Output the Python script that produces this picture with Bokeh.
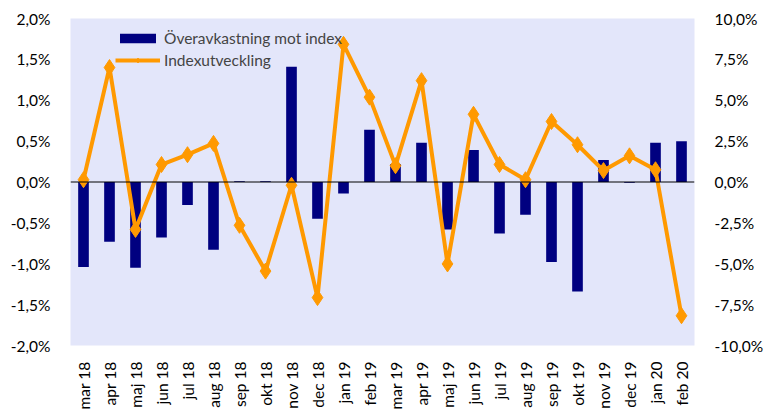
from math import pi
from bokeh.plotting import figure
from bokeh.models import (FactorRange, Range1d, LinearAxis, FixedTicker, Span,
                          Legend, LegendItem, ColumnDataSource)
from bokeh.embed import file_html
from bokeh.resources import INLINE

months = ["mar 18", "apr 18", "maj 18", "jun 18", "jul 18", "aug 18", "sep 18",
          "okt 18", "nov 18", "dec 18", "jan 19", "feb 19", "mar 19", "apr 19",
          "maj 19", "jun 19", "jul 19", "aug 19", "sep 19", "okt 19", "nov 19",
          "dec 19", "jan 20", "feb 20"]
excess = [-1.04, -0.73, -1.05, -0.68, -0.28, -0.83, 0.01, 0.01, 1.41, -0.45,
          -0.14, 0.64, 0.22, 0.48, -0.58, 0.39, -0.63, -0.40, -0.98, -1.34,
          0.27, -0.01, 0.48, 0.50]
index_dev = [0.14, 7.0, -2.9, 1.07, 1.67, 2.36, -2.65, -5.45, -0.2, -7.07,
             8.42, 5.19, 1.0, 6.2, -5.01, 4.14, 1.07, 0.14, 3.7, 2.28,
             0.70, 1.6, 0.75, -8.18]

left_ticks = [-2.0, -1.5, -1.0, -0.5, 0.0, 0.5, 1.0, 1.5, 2.0]
left_labels = ["-2,0%", "-1,5%", "-1,0%", "-0,5%", "0,0%", "0,5%", "1,0%", "1,5%", "2,0%"]
right_ticks = [-10.0, -7.5, -5.0, -2.5, 0.0, 2.5, 5.0, 7.5, 10.0]
right_labels = ["-10,0%", "-7,5%", "-5,0%", "-2,5%", "0,0%", "2,5%", "5,0%", "7,5%", "10,0%"]

FONT = "Lato"
FS = "15.5px"

src = ColumnDataSource(dict(m=months, ex=excess, idx=index_dev))

p = figure(x_range=FactorRange(*months), y_range=Range1d(-2, 2),
           width=766, height=412, output_backend="svg", toolbar_location=None,
           min_border_left=70, min_border_right=69, min_border_top=18,
           min_border_bottom=64)
p.extra_y_ranges = {"idx": Range1d(-10, 10)}
p.background_fill_color = "#E3E6FA"
p.border_fill_color = "white"
p.outline_line_color = None
p.grid.visible = False

bars = p.vbar(x="m", top="ex", width=0.41, source=src, fill_color="#000080",
              line_color=None)
line = p.line(x="m", y="idx", source=src, y_range_name="idx",
              line_color="#FF9900", line_width=4)
marks = p.scatter(x="m", y="idx", source=src, y_range_name="idx", marker="diamond",
                  size=16, fill_color="#FF9900", line_color="#FF9900")

p.add_layout(Span(location=0, dimension="width", line_color="black", line_width=1))

raxis = LinearAxis(y_range_name="idx")
p.add_layout(raxis, "right")

p.yaxis[0].ticker = FixedTicker(ticks=left_ticks)
p.yaxis[0].major_label_overrides = dict(zip(left_ticks, left_labels))
raxis.ticker = FixedTicker(ticks=right_ticks)
raxis.major_label_overrides = dict(zip(right_ticks, right_labels))

for ax in [p.yaxis[0], raxis, p.xaxis[0]]:
    ax.axis_line_color = None
    ax.major_tick_line_color = None
    ax.minor_tick_line_color = None
    ax.major_label_text_font = FONT
    ax.major_label_text_font_size = FS
    ax.major_label_text_color = "black"
p.yaxis[0].major_label_standoff = 14
raxis.major_label_standoff = 14
p.xaxis[0].major_label_orientation = pi / 2
p.xaxis[0].major_label_standoff = 10

legend = Legend(items=[LegendItem(label="Överavkastning mot index", renderers=[bars]),
                       LegendItem(label="Indexutveckling", renderers=[line, marks])],
                location=(45, 276), orientation="vertical",
                background_fill_alpha=0, border_line_alpha=0,
                label_text_font=FONT, label_text_font_size=FS,
                glyph_width=45, glyph_height=12, padding=0, margin=0, spacing=4,
                label_standoff=4)
p.add_layout(legend, "center")

open("out.html", "w").write(file_html(p, INLINE))
